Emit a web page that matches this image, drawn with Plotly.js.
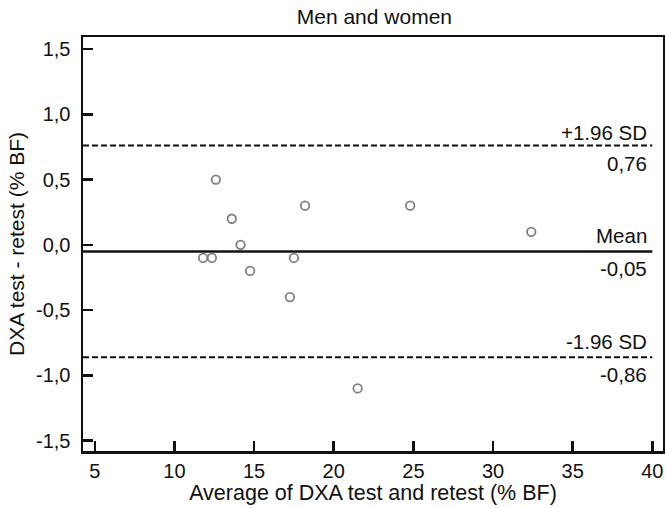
<!DOCTYPE html>
<html>
<head>
<meta charset="utf-8">
<script src="https://cdn.plot.ly/plotly-3.0.1.min.js"></script>
<style>html,body{margin:0;padding:0;background:#fff;}#chart{width:665px;height:508px;}</style>
</head>
<body>
<div id="chart"></div>
<script>
// Data (Bland-Altman plot)
const avgValues  = [12.6, 13.6, 14.15, 11.8, 12.35, 14.75, 17.5, 17.25, 18.2, 24.8, 32.4, 21.5];
const diffValues = [0.5, 0.2, 0.0, -0.1, -0.1, -0.2, -0.1, -0.4, 0.3, 0.3, 0.1, -1.1];
const meanDiff = -0.05;
const upperLoA = 0.76;
const lowerLoA = -0.86;
const meanLabel = "-0,05";
const upperLabel = "0,76";
const lowerLabel = "-0,86";
const xTickVals = [5, 10, 15, 20, 25, 30, 35, 40];
const xTickText = ["5", "10", "15", "20", "25", "30", "35", "40"];
const yTickVals = [-1.5, -1.0, -0.5, 0.0, 0.5, 1.0, 1.5];
const yTickText = ["-1,5", "-1,0", "-0,5", "0,0", "0,5", "1,0", "1,5"];

const xRange = [4.26, 40.67];
const yRange = [-1.579, 1.592];
const lineEnd = 40;

const font = "Liberation Sans, Arial, sans-serif";

const traces = [{
  type: "scatter", mode: "markers",
  x: avgValues, y: diffValues,
  marker: {symbol: "circle-open", size: 8.5, color: "#808080", line: {width: 1.8, color: "#808080"}},
  hoverinfo: "x+y", showlegend: false
}];

const shapes = [
  {type: "line", xref: "x", yref: "y", x0: xRange[0], x1: lineEnd, y0: meanDiff, y1: meanDiff, line: {color: "#111", width: 2.5}},
  {type: "line", xref: "x", yref: "y", x0: xRange[0], x1: lineEnd, y0: upperLoA, y1: upperLoA, line: {color: "#111", width: 2, dash: "6px,3px"}},
  {type: "line", xref: "x", yref: "y", x0: xRange[0], x1: lineEnd, y0: lowerLoA, y1: lowerLoA, line: {color: "#111", width: 2, dash: "6px,3px"}}
];

function ann(text, y, above, shift) {
  return {xref: "x", yref: "y", x: lineEnd, y: y, text: text, showarrow: false,
    xanchor: "right", yanchor: above ? "bottom" : "top", xshift: -3, yshift: shift,
    font: {family: font, size: 20.5, color: "#111"}};
}

const annotations = [
  ann("+1.96 SD", upperLoA, true, 0),
  ann(upperLabel, upperLoA, false, -4),
  ann("Mean", meanDiff, true, 2),
  ann(meanLabel, meanDiff, false, -4),
  ann("-1.96 SD", lowerLoA, true, 2),
  ann(lowerLabel, lowerLoA, false, -4)
];

const axisCommon = {
  showgrid: false, zeroline: false, showline: true, linewidth: 2.5, linecolor: "#111",
  mirror: true, ticks: "inside", ticklen: 10, tickwidth: 2.5, tickcolor: "#111",
  tickfont: {family: font, size: 20, color: "#111"}
};

const layout = {
  width: 665, height: 508,
  margin: {l: 83, r: 2, t: 37, b: 57},
  paper_bgcolor: "#fff", plot_bgcolor: "#fff",
  title: {text: "Men and women", font: {family: font, size: 21, color: "#111"}, x: 0.563, xanchor: "center", y: 0.968, yanchor: "middle"},
  xaxis: Object.assign({}, axisCommon, {
    range: xRange, tickmode: "array", tickvals: xTickVals, ticktext: xTickText,
    title: {text: "Average of DXA test and retest (% BF)", font: {family: font, size: 21.5, color: "#111"}, standoff: 2}
  }),
  yaxis: Object.assign({}, axisCommon, {
    range: yRange, tickmode: "array", tickvals: yTickVals, ticktext: yTickText,
    ticklabelstandoff: 6,
    title: {text: "DXA test - retest (% BF)", font: {family: font, size: 21, color: "#111"}, standoff: 6}
  }),
  shapes: shapes,
  annotations: annotations,
  showlegend: false
};

Plotly.newPlot("chart", traces, layout, {displayModeBar: false, staticPlot: true});
</script>
</body>
</html>
